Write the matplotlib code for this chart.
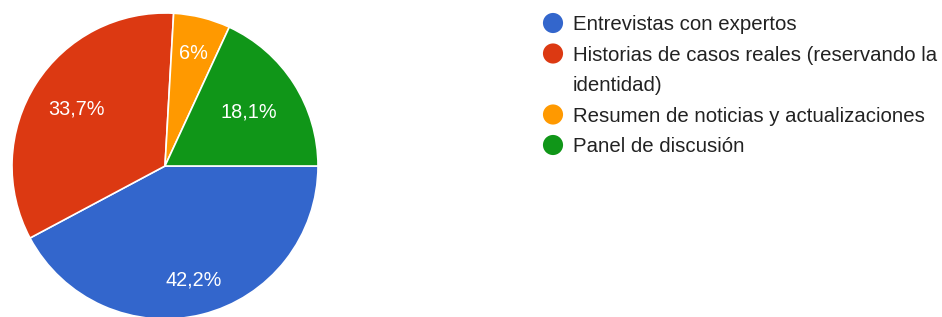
import textwrap
import numpy as np
import matplotlib.pyplot as plt

categorias = ["Entrevistas con expertos",
              "Historias de casos reales (reservando la identidad)",
              "Resumen de noticias y actualizaciones",
              "Panel de discusión"]
valores = [42.2, 33.7, 6.0, 18.1]
etiquetas = ["42,2%", "33,7%", "6%", "18,1%"]
colores = ["#3366cc", "#dc3912", "#ff9900", "#109618"]

plt.rcParams['font.family'] = ['Liberation Sans', 'DejaVu Sans']

W, H = 942, 317
fig = plt.figure(figsize=(W / 100, H / 100), dpi=100)

# pie placed in pixel units: centre (165,166), radius 153
cx, cy, r = 165, 166, 153
ax = fig.add_axes([(cx - r) / W, (H - cy - r) / H, 2 * r / W, 2 * r / H])
wedges, _ = ax.pie(valores, colors=colores, startangle=0, counterclock=False,
                   wedgeprops=dict(edgecolor='white', linewidth=1.2))
ax.set_xlim(-1, 1)
ax.set_ylim(-1, 1)

# label distance per slice (google charts fits them inside)
dist = [0.77, 0.69, 0.76, 0.65]
for w, lab, d in zip(wedges, etiquetas, dist):
    ang = np.deg2rad((w.theta1 + w.theta2) / 2)
    ax.text(d * np.cos(ang), d * np.sin(ang), lab, color='white',
            fontsize=14.3, ha='center', va='center')

# legend drawn by hand
lg = fig.add_axes([0, 0, 1, 1])
lg.set_xlim(0, W)
lg.set_ylim(H, 0)
lg.axis('off')
lg.patch.set_alpha(0)
y = 23
for cat, col in zip(categorias, colores):
    lg.scatter([553], [y], s=210, color=col, edgecolors='none')
    for line in textwrap.wrap(cat, 40):
        lg.text(573, y + 7.3, line, fontsize=14.7, color='#222222',
                va='baseline', ha='left')
        y += 30.5

fig.savefig('out.png', dpi=100)
